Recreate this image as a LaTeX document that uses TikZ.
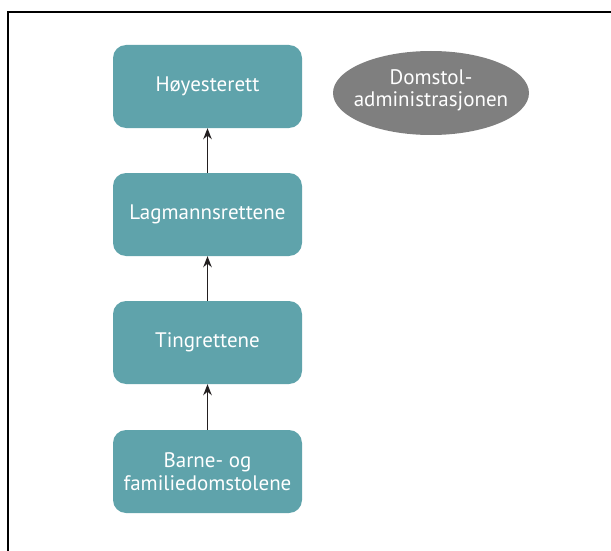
\documentclass[tikz,border=0pt]{standalone}
\usepackage{fontspec}
\setmainfont{PT Sans}
\usetikzlibrary{shapes.geometric,arrows.meta}
\definecolor{court}{HTML}{5FA3AB}
\definecolor{admin}{HTML}{7F7F7F}
\definecolor{arrowink}{HTML}{231F20}
\begin{document}
\begin{tikzpicture}[x=1pt,y=-1pt,
  courtbox/.style={fill=court,draw=none,rounded corners=13pt,
    minimum width=189pt,minimum height=83pt,inner sep=0pt,
    text=white,font=\fontsize{21}{23.5}\selectfont,align=center},
  adminoval/.style={ellipse,fill=admin,draw=none,
    minimum width=196pt,minimum height=84pt,inner sep=0pt},
  ovaltext/.style={text=white,font=\fontsize{21}{22}\selectfont,
    align=center,inner sep=0pt,yshift=3pt},
  uplink/.style={draw=arrowink,line width=1.4pt,
    -{Stealth[length=11pt,width=8.5pt]}}]
  % page extent
  \useasboundingbox (0,0) rectangle (611,551);
  % frame: top and left edges only
  \draw[line width=2pt,line cap=rect] (611,12) -- (8.3,12) -- (8.3,551);
  % courts, highest at the top
  \node[courtbox] (hr) at (207.5,86.5) {Høyesterett};
  \node[courtbox] (lr) at (207.5,214.5) {Lagmannsrettene};
  \node[courtbox] (tr) at (207.5,342.5) {Tingrettene};
  \node[courtbox] (bf) at (207.5,471.5) {Barne- og\\familiedomstolene};
  % administration body: fixed-size oval with its caption set on top
  \node[adminoval,label={[ovaltext]center:Domstol-\\administrasjonen}] (da) at (431,93) {};
  % appeal routes
  \draw[uplink] (bf.north) -- (tr.south);
  \draw[uplink] (tr.north) -- (lr.south);
  \draw[uplink] (lr.north) -- (hr.south);
\end{tikzpicture}
\end{document}
